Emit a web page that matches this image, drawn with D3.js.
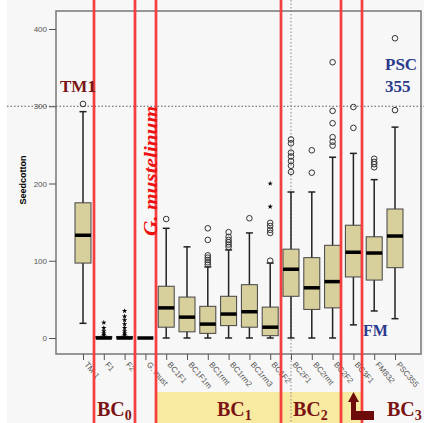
<!DOCTYPE html>
<html>
<head>
<meta charset="utf-8">
<script src="https://cdn.jsdelivr.net/npm/d3@7"></script>
<style>
  body { margin: 0; background: #fff; }
  .tick text { font-family: "Liberation Sans", Arial, sans-serif; font-size: 8px; fill: #555; }
  .tick line { stroke: #555; }
  .serif { font-family: "Liberation Serif", "Times New Roman", serif; font-weight: bold; }
</style>
</head>
<body>
<div id="chart"></div>
<script>
// categories and box values
var cats = ["TM-1", "F1", "F2", "G. must", "BC1F1", "BC1F1m", "BC1rmt", "BC1rm2", "BC1rm3", "BC1F2",
            "BC2F1", "BC2rmt", "BC2F2", "BC3F1", "FM832", "PSC355"];
var lowW  = [19, 0, 0, 0, 0, 0, 0, 0, 0, 0, 0, 0, 0, 17, 35, 25];
var q1    = [97, 0, 0, 0, 14, 8, 6, 16, 14, 3, 54, 37, 39, 79, 75, 91];
var med   = [133, 0, 0, 0, 39, 27, 18, 31, 34, 14, 89, 65, 73, 111, 110, 132];
var q3    = [175, 2, 2, 0, 67, 53, 41, 54, 69, 40, 115, 104, 120, 146, 131, 167];
var highW = [293, 2, 2, 0, 142, 118, 92, 114, 136, 97, 189, 189, 234, 239, 205, 273];
var outliers = [
  [303], [], [], [], [154], [],
  [142, 127, 107, 104, 101, 98, 95],
  [137, 131, 127, 124, 121, 118],
  [155],
  [100, 149, 145, 140, 136],
  [257, 252, 240, 235, 229, 223, 215],
  [243, 214],
  [357, 294, 278, 260, 254, 249],
  [299, 272],
  [232, 228, 225, 221],
  [388, 295]
];
var extremes = [
  [], [4, 6, 9, 13, 20], [4, 6, 9, 13, 18, 23, 28, 35], [], [], [], [], [], [], [200, 170],
  [], [], [], [], [], []
];
var yTicks = [0, 100, 200, 300, 400];

var svgWidth = 424, svgHeight = 423;
var svg = d3.select("#chart").append("svg")
  .attr("width", svgWidth)
  .attr("height", svgHeight);

svg.append("rect").attr("x", 7).attr("y", 0).attr("width", svgWidth - 7).attr("height", svgHeight)
  .attr("fill", "#f7f7f7");

var x = d3.scalePoint().domain(cats).range([83, 395]);
var y = d3.scaleLinear().domain([0, 400]).range([338, 29]);

// yellow band under BC1 / BC2
svg.append("rect").attr("x", 157).attr("y", 392).attr("width", 205).attr("height", 31)
  .attr("fill", "#f8eaa0");

// reference line at 300
svg.append("line").attr("x1", 7).attr("x2", svgWidth).attr("y1", y(300)).attr("y2", y(300))
  .attr("stroke", "#555").attr("stroke-dasharray", "1.5,2");
svg.append("line").attr("x1", x("BC2F1")).attr("x2", x("BC2F1")).attr("y1", 0).attr("y2", svgHeight)
  .attr("stroke", "#888").attr("stroke-dasharray", "1.5,2");

// frame
svg.append("rect").attr("x", 56).attr("y", 11).attr("width", 365).attr("height", 343)
  .attr("fill", "none").attr("stroke", "#777").attr("stroke-width", 1.5);

// axes
var leftAxis = d3.axisLeft(y).tickValues(yTicks).tickSize(7).tickPadding(2);
svg.append("g").attr("transform", "translate(56,0)").call(leftAxis)
  .call(g => g.select(".domain").remove());

var bottomAxis = d3.axisBottom(x).tickSize(6).tickPadding(2);
svg.append("g").attr("transform", "translate(0,354)").call(bottomAxis)
  .call(g => g.select(".domain").remove())
  .selectAll("text")
  .attr("text-anchor", "start")
  .attr("dx", "1px").attr("dy", "0.35em")
  .attr("transform", "translate(0,6) rotate(50)")
  .attr("y", 0).attr("x", 3);

svg.append("text")
  .attr("transform", "translate(26,180) rotate(-90)")
  .attr("text-anchor", "middle")
  .style("font-family", "Liberation Sans, Arial, sans-serif")
  .style("font-size", "9px").style("font-weight", "bold")
  .text("Seedcotton");

// boxes
var boxW = 16, capW = 7;
var boxes = svg.append("g").selectAll("g").data(cats).enter().append("g");

boxes.append("line")
  .attr("x1", d => x(d)).attr("x2", d => x(d))
  .attr("y1", (d, i) => y(highW[i])).attr("y2", (d, i) => y(lowW[i]))
  .attr("stroke", "#222").attr("stroke-width", 1.5);
boxes.append("line")
  .attr("x1", d => x(d) - capW / 2).attr("x2", d => x(d) + capW / 2)
  .attr("y1", (d, i) => y(highW[i])).attr("y2", (d, i) => y(highW[i]))
  .attr("stroke", "#222").attr("stroke-width", 1.5);
boxes.append("line")
  .attr("x1", d => x(d) - capW / 2).attr("x2", d => x(d) + capW / 2)
  .attr("y1", (d, i) => y(lowW[i])).attr("y2", (d, i) => y(lowW[i]))
  .attr("stroke", "#222").attr("stroke-width", 1.5);
boxes.append("rect")
  .attr("x", d => x(d) - boxW / 2).attr("width", boxW)
  .attr("y", (d, i) => y(q3[i])).attr("height", (d, i) => y(q1[i]) - y(q3[i]))
  .attr("fill", "#d7d09c").attr("stroke", "#444").attr("stroke-width", 1);
boxes.append("line")
  .attr("x1", d => x(d) - boxW / 2).attr("x2", d => x(d) + boxW / 2)
  .attr("y1", (d, i) => y(med[i])).attr("y2", (d, i) => y(med[i]))
  .attr("stroke", "#000").attr("stroke-width", 3.5);

boxes.each(function (d, i) {
  var g = d3.select(this);
  g.selectAll("circle").data(outliers[i]).enter().append("circle")
    .attr("cx", x(d)).attr("cy", v => y(v)).attr("r", 2.8)
    .attr("fill", "none").attr("stroke", "#333").attr("stroke-width", 1);
  g.selectAll("path.star").data(extremes[i]).enter().append("path")
    .attr("class", "star")
    .attr("transform", v => "translate(" + x(d) + "," + y(v) + ")")
    .attr("d", d3.symbol().type(d3.symbolStar).size(9))
    .attr("fill", "#000");
});

// red separators
[94, 135, 156, 281, 341, 362].forEach(function (px) {
  svg.append("line").attr("x1", px).attr("x2", px).attr("y1", 0).attr("y2", svgHeight)
    .attr("stroke", "#f01818").attr("stroke-width", 2.6);
  svg.append("line").attr("x1", px).attr("x2", px).attr("y1", 0).attr("y2", svgHeight)
    .attr("stroke", "#ff8a8a").attr("stroke-width", 0.7);
});

// annotations
svg.append("text").attr("class", "serif").attr("x", 60).attr("y", 92)
  .attr("fill", "#7a1414").style("font-size", "17px").text("TM1");
svg.append("text").attr("class", "serif")
  .attr("transform", "translate(157,236) rotate(-90)")
  .attr("fill", "#ee1111").style("font-size", "19px").style("font-style", "italic")
  .attr("textLength", 130).attr("lengthAdjust", "spacingAndGlyphs")
  .text("G. mustelinum");
svg.append("text").attr("class", "serif").attr("x", 385).attr("y", 70)
  .attr("fill", "#2b3a8c").style("font-size", "17px").text("PSC");
svg.append("text").attr("class", "serif").attr("x", 385).attr("y", 92)
  .attr("fill", "#2b3a8c").style("font-size", "17px").text("355");
svg.append("text").attr("class", "serif").attr("x", 363).attr("y", 336)
  .attr("fill", "#2b3a8c").style("font-size", "16px").text("FM");

var bcLabels = [["BC", "0", 97], ["BC", "1", 217], ["BC", "2", 293], ["BC", "3", 387]];
bcLabels.forEach(function (b) {
  var t = svg.append("text").attr("class", "serif").attr("x", b[2]).attr("y", 416)
    .attr("fill", "#7a1414").style("font-size", "20px");
  t.append("tspan").text(b[0]);
  t.append("tspan").attr("dy", 4).style("font-size", "14px").text(b[1]);
});

// L-shaped arrow
svg.append("path")
  .attr("d", "M348,402 L353.5,392 L359,402 L356,402 L356,411 L374,411 L374,420 L351,420 L351,402 Z")
  .attr("fill", "#6e0c0c");
</script>
</body>
</html>
